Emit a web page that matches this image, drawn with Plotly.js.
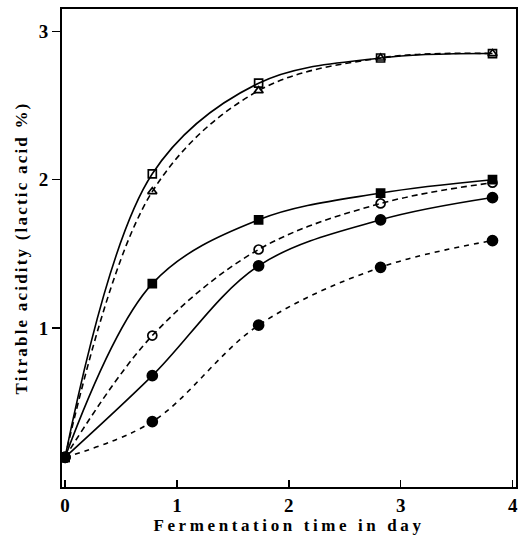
<!DOCTYPE html>
<html>
<head>
<meta charset="utf-8">
<script src="https://cdn.plot.ly/plotly-3.0.1.min.js"></script>
<style>
  html, body { margin: 0; padding: 0; background: #fff; }
  #chart { width: 518px; height: 536px; }
  .g-xtitle text { letter-spacing: 3.6px; }
  .g-ytitle text { letter-spacing: 2.2px; }
</style>
</head>
<body>
<div id="chart"></div>
<script>
// Fermentation time (day)
const days = [0, 0.78, 1.73, 2.82, 3.82];

// Titrable acidity (lactic acid %) per series
const openSquare   = [0.13, 2.04, 2.65, 2.82, 2.85];
const openTriangle = [0.13, 1.92, 2.60, 2.82, 2.85];
const filledSquare = [0.13, 1.30, 1.73, 1.91, 2.00];
const openCircle   = [0.13, 0.95, 1.53, 1.84, 1.98];
const filledCircle = [0.13, 0.68, 1.42, 1.73, 1.88];
const filledCircleDashed = [0.13, 0.37, 1.02, 1.41, 1.59];

const xTicks = [0, 1, 2, 3, 4];
const yTicks = [1, 2, 3];

const serif = 'Liberation Serif, DejaVu Serif, serif';

function series(y, symbol, size, dash) {
  return {
    x: days, y: y, type: 'scatter', mode: 'lines+markers',
    line: { shape: 'spline', smoothing: 1, color: '#000', width: 1.6, dash: dash },
    marker: { symbol: symbol, size: size, color: '#000',
              line: { color: '#000', width: 1.7 } },
    showlegend: false, hoverinfo: 'skip'
  };
}

const data = [
  series(openSquare, 'square-open', 8, 'solid'),
  series(openTriangle, 'triangle-up-open', 8, '6px,4px'),
  series(filledSquare, 'square', 8, 'solid'),
  series(openCircle, 'circle-open', 9, '6px,4px'),
  series(filledCircle, 'circle', 10, 'solid'),
  series(filledCircleDashed, 'circle', 10, '5px,5px')
];

const layout = {
  width: 518, height: 536,
  margin: { l: 62, r: 2, t: 9, b: 49 },
  paper_bgcolor: '#fff', plot_bgcolor: '#fff',
  font: { family: serif, color: '#000' },
  xaxis: {
    range: [-0.027, 4.03],
    tickvals: xTicks, ticktext: xTicks.map(String),
    ticks: 'inside', ticklen: 7, tickwidth: 1.5, tickcolor: '#000',
    showline: true, linecolor: '#000', linewidth: 2, mirror: true,
    showgrid: false, zeroline: false,
    tickfont: { family: serif, size: 19, weight: 'bold', color: '#000' },
    title: { text: 'Fermentation time in day', standoff: 2,
             font: { family: serif, size: 17, weight: 'bold', color: '#000' } }
  },
  yaxis: {
    range: [-0.07, 3.15],
    tickvals: yTicks, ticktext: yTicks.map(String),
    ticks: 'outside', ticklen: 8, tickwidth: 1.5, tickcolor: '#000',
    showline: true, linecolor: '#000', linewidth: 2, mirror: true,
    showgrid: false, zeroline: false,
    tickfont: { family: serif, size: 19, weight: 'bold', color: '#000' },
    title: { text: 'Titrable acidity (lactic acid %)', standoff: 7,
             font: { family: serif, size: 17, weight: 'bold', color: '#000' } }
  }
};

Plotly.newPlot('chart', data, layout, { staticPlot: true, displayModeBar: false });
</script>
</body>
</html>
